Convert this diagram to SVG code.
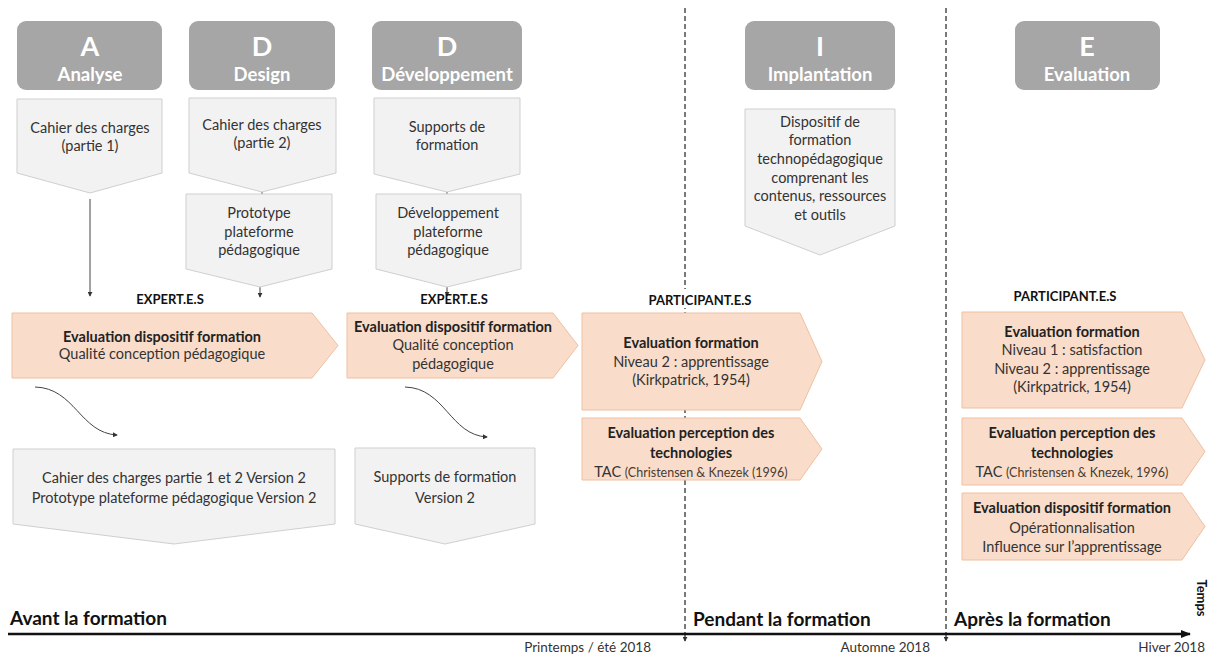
<svg xmlns="http://www.w3.org/2000/svg" width="1212" height="657" viewBox="0 0 1212 657">
<defs>
<marker id="ah" viewBox="0 0 6 6" refX="5" refY="3" markerWidth="5" markerHeight="5" orient="auto" markerUnits="userSpaceOnUse"><path d="M0,0 L6,3 L0,6 z" fill="#333"/></marker>
<marker id="tl" viewBox="0 0 10 8" refX="9" refY="4" markerWidth="10" markerHeight="8" orient="auto" markerUnits="userSpaceOnUse"><path d="M0,0 L10,4 L0,8 z" fill="#111"/></marker>
</defs>
<style>
.hdr{fill:#a6a6a6}
.hl{font-family:Lato,'Liberation Sans',sans-serif;font-weight:700;fill:#fff;text-anchor:middle}
.big{font-size:27px}
.nm{font-size:18.5px}
.gp{fill:#f2f2f2;stroke:#cfcfcf;stroke-width:1}
.op{fill:#f9ddca;stroke:#efc0a0;stroke-width:1}
.t{font-family:Lato,'Liberation Sans',sans-serif;font-size:14.5px;fill:#333;text-anchor:middle}
.b{font-weight:700;fill:#222}
.s{font-size:12.5px;fill:#4a3b30}
.lab{font-family:Lato,'Liberation Sans',sans-serif;font-weight:700;font-size:13px;fill:#111;text-anchor:middle}
.dash{stroke:#333;stroke-width:1.3;stroke-dasharray:5 3;fill:none}
.con{stroke:#444;stroke-width:1;fill:none}
.phase{font-family:Lato,'Liberation Sans',sans-serif;font-weight:700;font-size:19px;fill:#111}
.date{font-family:Lato,'Liberation Sans',sans-serif;font-size:13.5px;fill:#333}
</style>
<rect width="1212" height="657" fill="#fff"/>

<g id="separators">
<line class="dash" x1="685" y1="8" x2="685" y2="641" marker-end="url(#ah)"/>
<line class="dash" x1="946" y1="8" x2="946" y2="641" marker-end="url(#ah)"/>
</g>

<g id="connectors">
<line class="con" x1="90" y1="199" x2="90" y2="296" marker-end="url(#ah)"/>
<line class="con" x1="262" y1="192" x2="262" y2="194"/>
<line class="con" x1="260" y1="287" x2="260" y2="297" marker-end="url(#ah)"/>
<line class="con" x1="447" y1="192" x2="447" y2="194"/>
<line class="con" x1="447" y1="287" x2="447" y2="296" marker-end="url(#ah)"/>
<path class="con" d="M35,387 C75,388 80,433 117,435" marker-end="url(#ah)"/>
<path class="con" d="M405,387 C445,388 450,435 487,437" marker-end="url(#ah)"/>
</g>

<g id="h-analyse"><rect class="hdr" x="17" y="21" width="145" height="69" rx="9"/><text class="hl big" x="90" y="56">A</text><text class="hl nm" x="90" y="81">Analyse</text></g>
<g id="h-design"><rect class="hdr" x="189" y="21" width="146" height="69" rx="9"/><text class="hl big" x="262" y="56">D</text><text class="hl nm" x="262" y="81">Design</text></g>
<g id="h-dev"><rect class="hdr" x="372" y="21" width="150" height="69" rx="9"/><text class="hl big" x="447" y="56">D</text><text class="hl nm" x="447" y="81">Développement</text></g>
<g id="h-impl"><rect class="hdr" x="745" y="21" width="150" height="69" rx="9"/><text class="hl big" x="820" y="56">I</text><text class="hl nm" x="820" y="81">Implantation</text></g>
<g id="h-eval"><rect class="hdr" x="1015" y="21" width="145" height="69" rx="9"/><text class="hl big" x="1087" y="56">E</text><text class="hl nm" x="1087" y="81">Evaluation</text></g>

<g id="p-cahier1"><path class="gp" d="M17,99 H162 V173 L90,193 L17,173 Z"/><text class="t" x="90" y="133">Cahier des charges</text><text class="t" x="90" y="151">(partie 1)</text></g>
<g id="p-cahier2"><path class="gp" d="M189,98 H336 V173 L262,192 L189,173 Z"/><text class="t" x="262" y="130">Cahier des charges</text><text class="t" x="262" y="148">(partie 2)</text></g>
<g id="p-proto"><path class="gp" d="M186,194 H332 V269 L260,287 L186,269 Z"/><text class="t" x="259" y="218">Prototype</text><text class="t" x="259" y="237">plateforme</text><text class="t" x="259" y="255">pédagogique</text></g>
<g id="p-supports"><path class="gp" d="M374,98 H520 V174 L447,192 L374,174 Z"/><text class="t" x="447" y="132">Supports de</text><text class="t" x="447" y="150">formation</text></g>
<g id="p-devplat"><path class="gp" d="M376,194 H521 V269 L447,287 L376,269 Z"/><text class="t" x="448" y="218">Développement</text><text class="t" x="448" y="237">plateforme</text><text class="t" x="448" y="255">pédagogique</text></g>
<g id="p-dispositif"><path class="gp" d="M745,109 H895 V226 L820,255 L745,226 Z"/><text class="t" x="820" y="127">Dispositif de</text><text class="t" x="820" y="145">formation</text><text class="t" x="820" y="164">technopédagogique</text><text class="t" x="820" y="183">comprenant les</text><text class="t" x="820" y="201">contenus, ressources</text><text class="t" x="820" y="220">et outils</text></g>

<g id="lbl-expert1"><text class="lab" x="170" y="304">EXPERT.E.S</text></g>
<g id="lbl-expert2"><text class="lab" x="454" y="304">EXPERT.E.S</text></g>
<g id="lbl-part1"><rect x="652" y="289" width="96" height="19" fill="#fff"/><text class="lab" x="700" y="305">PARTICIPANT.E.S</text></g>
<g id="lbl-part2"><text class="lab" x="1065" y="301">PARTICIPANT.E.S</text></g>

<g id="o-eval1"><path class="op" d="M12,313 H312 L338,345.5 L312,378 H12 Z"/><text class="t b" x="162" y="342">Evaluation dispositif formation</text><text class="t" x="162" y="359">Qualité conception pédagogique</text></g>
<g id="o-eval2"><path class="op" d="M347,313 H553 L578,345.5 L553,378 H347 Z"/><text class="t b" x="453" y="332">Evaluation dispositif formation</text><text class="t" x="453" y="350">Qualité conception</text><text class="t" x="453" y="369">pédagogique</text></g>
<g id="o-form1"><path class="op" d="M582,313 H800 L822,361.5 L800,410 H582 Z"/><text class="t b" x="691" y="348">Evaluation formation</text><text class="t" x="691" y="367">Niveau 2 : apprentissage</text><text class="t" x="691" y="385">(Kirkpatrick, 1954)</text></g>
<g id="o-tech1"><path class="op" d="M582,418 H800 L822,449 L800,480 H582 Z"/><text class="t b" x="691" y="438">Evaluation perception des</text><text class="t b" x="691" y="458">technologies</text><text class="t" x="691" y="477" font-size="13">TAC <tspan class="s">(Christensen  &amp; Knezek (1996)</tspan></text></g>

<g id="o-form2"><path class="op" d="M962,312 H1182 L1205,360 L1182,408 H962 Z"/><text class="t b" x="1072" y="337">Evaluation formation</text><text class="t" x="1072" y="355">Niveau 1 : satisfaction</text><text class="t" x="1072" y="374">Niveau 2 : apprentissage</text><text class="t" x="1072" y="392">(Kirkpatrick, 1954)</text></g>
<g id="o-tech2"><path class="op" d="M962,418 H1182 L1205,451.5 L1182,485 H962 Z"/><text class="t b" x="1072" y="438">Evaluation perception des</text><text class="t b" x="1072" y="458">technologies</text><text class="t" x="1072" y="477" font-size="13">TAC <tspan class="s">(Christensen  &amp; Knezek, 1996)</tspan></text></g>
<g id="o-disp2"><path class="op" d="M962,493 H1182 L1205,526.5 L1182,560 H962 Z"/><text class="t b" x="1072" y="513">Evaluation dispositif formation</text><text class="t" x="1072" y="533">Opérationnalisation</text><text class="t" x="1072" y="552">Influence sur l’apprentissage</text></g>

<g id="p-cahierv2"><path class="gp" d="M13,449 H335 V524 L174,544 L13,524 Z"/><text class="t" x="174" y="483" font-size="15">Cahier des charges partie 1 et 2  Version 2</text><text class="t" x="174" y="503" font-size="15">Prototype plateforme pédagogique Version 2</text></g>
<g id="p-supportsv2"><path class="gp" d="M355,448 H535 V524 L445,544 L355,524 Z"/><text class="t" x="445" y="482" font-size="15">Supports de formation</text><text class="t" x="445" y="503" font-size="15">Version 2</text></g>

<g id="timeline">
<line x1="8" y1="634" x2="1190" y2="634" stroke="#111" stroke-width="2.5" marker-end="url(#tl)"/>
<text class="phase" x="10" y="625">Avant la formation</text>
<text class="phase" x="693" y="626">Pendant la formation</text>
<text class="phase" x="954" y="626">Après la formation</text>
<text class="date" x="651" y="652" text-anchor="end">Printemps / été 2018</text>
<text class="date" x="930" y="652" text-anchor="end">Automne 2018</text>
<text class="date" x="1205" y="652" text-anchor="end">Hiver 2018</text>
<text class="lab" transform="translate(1197,598) rotate(90)" font-size="13">Temps</text>
</g>
</svg>
